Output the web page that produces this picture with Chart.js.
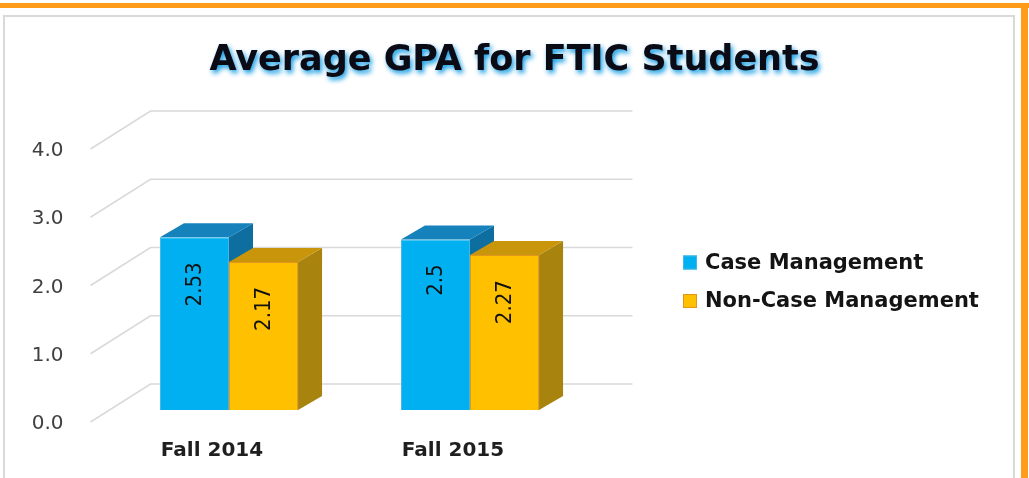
<!DOCTYPE html>
<html>
<head>
<meta charset="utf-8">
<title>Average GPA for FTIC Students</title>
<script src="https://cdn.jsdelivr.net/npm/chart.js@4.4.1/dist/chart.umd.min.js"></script>
<style>
  html, body { margin: 0; padding: 0; background: #ffffff; }
  #wrap { width: 1029px; height: 478px; position: relative; }
</style>
</head>
<body>
<div id="wrap"><canvas id="gpa"></canvas></div>
<script>
// chart data
const terms = ['Fall 2014', 'Fall 2015'];
const caseMgmt = [2.53, 2.5];
const nonCaseMgmt = [2.17, 2.27];
const yTicks = [0, 1, 2, 3, 4];

const colors = {
  blue: '#00B0F0', blueEdge: '#45B6E4', blueTop: '#1682BC', blueSide: '#0E6E9F',
  gold: '#FFC000', goldEdge: '#E3961C', goldTop: '#C9950A', goldSide: '#A8830E',
  grid: '#D9D9D9', orange: '#FF9C1A'
};

// 3d depth of the bars and of the back wall
const depth = { dx: 24, dy: -14 };
const wall = { dx: 60, dy: -26, front: 12 };

const framePlugin = {
  id: 'frame',
  beforeDraw(chart) {
    const ctx = chart.ctx;
    ctx.save();
    ctx.fillStyle = '#ffffff';
    ctx.fillRect(0, 0, chart.width, chart.height);
    ctx.strokeStyle = colors.grid;
    ctx.lineWidth = 2;
    ctx.strokeRect(4, 16, 1010, 480);
    ctx.fillStyle = colors.orange;
    ctx.fillRect(0, 3, chart.width, 5);
    ctx.fillRect(1021, 3, 7, chart.height);
    ctx.restore();

    // blue glow behind the title
    const t = chart.titleBlock;
    if (t && !t._glow) {
      const orig = t.draw.bind(t);
      t.draw = function() {
        const c = chart.ctx;
        c.save();
        c.shadowColor = 'rgba(0, 150, 225, 0.95)';
        c.shadowBlur = 5;
        c.shadowOffsetX = 2;
        c.shadowOffsetY = 3;
        orig();
        c.restore();
      };
      t._glow = true;
    }
  }
};

function poly(ctx, pts, fill) {
  ctx.beginPath();
  ctx.moveTo(pts[0][0], pts[0][1]);
  for (let i = 1; i < pts.length; i++) ctx.lineTo(pts[i][0], pts[i][1]);
  ctx.closePath();
  ctx.fillStyle = fill;
  ctx.fill();
}

const threeDPlugin = {
  id: 'threeD',
  beforeDatasetsDraw(chart) {
    const ctx = chart.ctx;
    const y = chart.scales.y;
    const area = chart.chartArea;
    ctx.save();
    // back wall grid + side wall diagonals
    ctx.strokeStyle = colors.grid;
    ctx.lineWidth = 1.5;
    yTicks.forEach(v => {
      const py = y.getPixelForValue(v);
      ctx.beginPath();
      ctx.moveTo(area.left - 18, py + wall.front);
      ctx.lineTo(area.left + wall.dx - 18, py + wall.dy);
      ctx.lineTo(area.right + wall.dx - 18, py + wall.dy);
      ctx.stroke();
    });
    // bar tops and sides
    const tones = [[colors.blueTop, colors.blueSide], [colors.goldTop, colors.goldSide]];
    terms.forEach((_, i) => {
      chart.data.datasets.forEach((ds, d) => {
        const bar = chart.getDatasetMeta(d).data[i];
        const l = bar.x - bar.width / 2, r = bar.x + bar.width / 2;
        const top = bar.y, base = bar.base;
        poly(ctx, [[r, top], [r + depth.dx, top + depth.dy], [r + depth.dx, base + depth.dy], [r, base]], tones[d][1]);
        poly(ctx, [[l, top], [l + depth.dx, top + depth.dy], [r + depth.dx, top + depth.dy], [r, top]], tones[d][0]);
      });
    });
    ctx.restore();
  },
  afterDatasetsDraw(chart) {
    const ctx = chart.ctx;
    ctx.save();
    ctx.font = "22px 'Liberation Sans Narrow', 'DejaVu Sans Condensed', sans-serif";
    ctx.fillStyle = '#111111';
    ctx.textAlign = 'right';
    ctx.textBaseline = 'middle';
    chart.data.datasets.forEach((ds, d) => {
      chart.getDatasetMeta(d).data.forEach((bar, i) => {
        ctx.save();
        ctx.translate(bar.x + 1, bar.y + 25);
        ctx.rotate(-Math.PI / 2);
        ctx.fillText(String(ds.data[i]), 0, 0);
        ctx.restore();
      });
    });
    ctx.restore();
  }
};

// legend on the right, drawn from the datasets
const sideLegend = {
  id: 'sideLegend',
  afterDraw(chart) {
    const ctx = chart.ctx;
    const x = 683, y0 = 262.5, step = 38.5, box = 14;
    ctx.save();
    ctx.font = "bold 21px 'DejaVu Sans', sans-serif";
    ctx.textBaseline = 'middle';
    ctx.textAlign = 'left';
    chart.data.datasets.forEach((ds, d) => {
      const cy = y0 + d * step;
      ctx.fillStyle = ds.backgroundColor;
      ctx.fillRect(x, cy - box / 2, box, box);
      ctx.strokeStyle = ds.borderColor;
      ctx.lineWidth = 1;
      ctx.strokeRect(x + 0.5, cy - box / 2 + 0.5, box - 1, box - 1);
      ctx.fillStyle = '#141414';
      ctx.fillText(ds.label, x + 22, cy + 1);
    });
    ctx.restore();
  }
};

new Chart(document.getElementById('gpa'), {
  type: 'bar',
  data: {
    labels: terms,
    datasets: [
      {
        label: 'Case Management',
        data: caseMgmt,
        backgroundColor: colors.blue,
        borderColor: colors.blueEdge,
        borderWidth: 1
      },
      {
        label: 'Non-Case Management',
        data: nonCaseMgmt,
        backgroundColor: colors.gold,
        borderColor: colors.goldEdge,
        borderWidth: 1
      }
    ]
  },
  options: {
    responsive: true,
    maintainAspectRatio: false,
    animation: false,
    datasets: { bar: { categoryPercentage: 0.573, barPercentage: 1 } },
    layout: { padding: 0 },
    plugins: {
      title: {
        display: true,
        text: 'Average GPA for FTIC Students',
        color: '#0B0B16',
        font: { family: 'DejaVu Sans', size: 35, weight: 'bold' },
        padding: { top: 40, bottom: 55 }
      },
      legend: { display: false },
      tooltip: { enabled: false }
    },
    scales: {
      x: {
        grid: { display: false },
        border: { display: false },
        ticks: {
          color: '#1F1F1F',
          font: { family: 'DejaVu Sans', size: 20, weight: 'bold' },
          padding: 21,
          labelOffset: -17
        },
        afterFit(s) { s.height = 68; }
      },
      y: {
        min: 0,
        max: 4,
        grid: { display: false },
        border: { display: false },
        ticks: {
          stepSize: 1,
          color: '#404040',
          font: { family: 'DejaVu Sans', size: 20 },
          padding: 37,
          labelOffset: 14,
          callback: v => v.toFixed(1)
        },
        afterFit(s) { s.width = 108.5; }
      },
      pad: {
        type: 'linear',
        position: 'right',
        grid: { display: false },
        border: { display: false },
        ticks: { display: false },
        afterFit(s) { s.width = 438.5; }
      }
    }
  },
  plugins: [framePlugin, threeDPlugin, sideLegend]
});
</script>
</body>
</html>
